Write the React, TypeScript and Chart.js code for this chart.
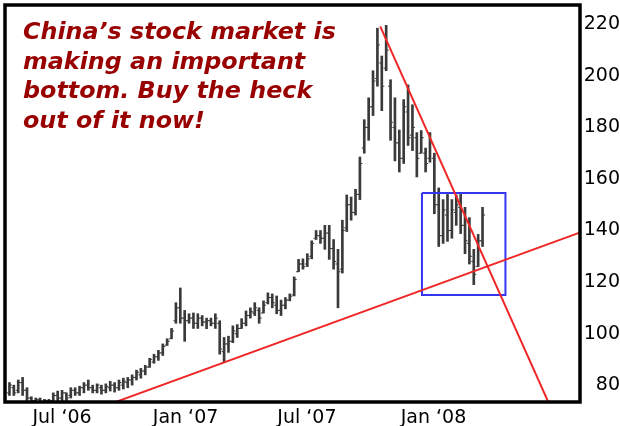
import React, { useEffect, useRef } from 'react';
import { Chart, registerables } from 'chart.js';

Chart.register(...registerables);

// Weekly OHLC bars (reading order, left to right)
const highs = [
  81, 80, 82, 83, 79, 75.5, 75, 75, 74.5, 74.5,
  77, 77.7, 78, 77, 79, 79, 79.6, 81, 82, 80,
  80.5, 80, 80.5, 81.5, 81, 82, 82.7, 83, 84,
  85.8, 86.5, 87.7, 90.4, 92, 93.5, 96, 98, 102, 112, 117.7,
  109, 107.7, 108, 107.7, 107, 106, 106, 107.7, 105, 98.5,
  99, 103, 103.5, 105.8, 108.8, 110, 112, 110, 112.7, 115.8,
  115.4, 114.6, 113, 114, 115.4, 122, 128.8, 129, 131, 136,
  140, 140, 142, 142, 136.5, 132.7, 144, 153.8, 153, 156,
  168.5, 183, 191.5, 202, 218.5, 207.7, 219.6, 198.5, 191.5, 179,
  190.8, 196.5, 188.8, 178, 178.8, 172, 178, 170, 156.5, 152,
  154, 152, 153.8, 154, 149, 145, 132.7, 138.5, 149,
];
const lows = [
  76, 76, 77, 76, 74, 73.5, 73, 73, 73, 73,
  73, 74, 73.8, 73.5, 75, 76, 76, 77, 78, 77,
  77, 76.5, 77, 77.7, 77.3, 78, 78.5, 79, 80,
  82, 82.7, 84, 86.9, 88.5, 89.6, 91.5, 95.4, 98, 104, 104,
  97, 104, 102, 102, 103, 101.9, 103, 102, 92, 89,
  92.7, 96.5, 98.5, 102, 103, 106, 107, 104, 108, 111.5,
  110, 107.7, 107, 109.6, 112.7, 114.6, 124, 125, 126, 129,
  136.5, 135, 132.7, 128.8, 125, 110, 123.5, 139.6, 144, 146,
  152, 170, 175, 184.6, 196, 186.5, 202, 175, 167, 162.7,
  166, 173, 171, 160.8, 170, 162.7, 166.5, 146.5, 133.8, 135,
  135.8, 137, 142, 138.8, 131, 127, 119, 126, 133.8,
];
const opens = [
  77, 79, 78, 81, 78, 75, 74, 74.5, 73.5, 74,
  74, 76, 75, 77, 76, 78, 77, 79, 80, 79,
  78, 79, 78, 79, 80, 79, 80, 81, 82,
  83, 84, 85.5, 87, 89, 91, 92.5, 95.5, 98, 105, 110,
  106, 105, 106, 104, 106, 104.5, 105, 104, 104, 93,
  96, 97, 100, 102, 104, 107, 108, 109, 108, 112,
  114, 111, 109, 111, 113, 115, 124, 127, 127, 130,
  137, 138, 137, 139, 133, 127, 125, 141, 150, 147,
  154, 172, 180, 188, 199, 205, 203, 196, 180, 174,
  168, 186, 177, 176, 170, 170, 168, 168, 150, 138,
  146, 140, 147, 149, 142, 135, 128, 126, 136,
];
const closes = [
  80, 77, 81, 78, 75, 74, 74.5, 73.5, 74, 74,
  76, 75, 77, 75, 78, 77, 79, 80, 79, 78,
  80, 78, 79.5, 80, 79, 81, 81.5, 82, 83,
  85, 85.5, 87, 90, 91, 92.5, 95, 97, 101, 110, 106,
  105, 106, 104, 106, 104.5, 105, 104, 106, 94, 96,
  97, 101, 102, 104, 107, 108.5, 110, 106, 111, 114,
  112, 109, 111, 113, 114.5, 121, 127, 126, 129, 135,
  138, 137, 139, 133, 128, 124, 140, 150, 147, 154,
  166, 180, 188, 198, 212, 196, 210, 182, 174, 168,
  188, 176, 180, 168, 176, 166, 174, 150, 138, 148,
  140, 148, 150, 142, 136, 130, 123, 136, 146,
];

const tickLabels = ['Jul ‘06', 'Jan ‘07', 'Jul ‘07', 'Jan ‘08'];
const tickWeeks = [12.0, 40.2, 67.9, 96.8];
const priceTicks = [80, 100, 120, 140, 160, 180, 200, 220];

// Trend lines and highlighted box, in (week, price)
const supportLine = [
  [24.3, 73.5],
  [131, 139.7],
];
const resistanceLine = [
  [84.64, 219.2],
  [124, 69.7],
];
const boxWeeks = [94.17, 113.23];
const boxPrices = [115, 154.6];

const noteLines = [
  'China’s stock market is',
  'making an important',
  'bottom. Buy the heck',
  'out of it now!',
];

const framePlugin = {
  id: 'frame',
  afterDraw(chart: any) {
    const { ctx, chartArea } = chart;
    ctx.save();
    ctx.strokeStyle = '#000';
    ctx.lineWidth = 3.5;
    ctx.strokeRect(
      chartArea.left,
      chartArea.top,
      chartArea.right - chartArea.left,
      chartArea.bottom - chartArea.top
    );
    ctx.restore();
  },
};

const whiteBg = {
  id: 'whiteBg',
  beforeDraw(chart: any) {
    const { ctx, width, height } = chart;
    ctx.save();
    ctx.fillStyle = '#fff';
    ctx.fillRect(0, 0, width, height);
    ctx.restore();
  },
};

export default function App() {
  const ref = useRef<HTMLCanvasElement | null>(null);

  useEffect(() => {
    if (!ref.current) return;
    const idx = highs.map((_, i) => i);
    const chart = new Chart(ref.current, {
      type: 'bar',
      data: {
        datasets: [
          {
            type: 'line',
            data: supportLine.map(([x, y]) => ({ x, y })),
            borderColor: '#f02626',
            borderWidth: 2,
            pointRadius: 0,
            order: 0,
          } as any,
          {
            type: 'line',
            data: resistanceLine.map(([x, y]) => ({ x, y })),
            borderColor: '#f02626',
            borderWidth: 2,
            pointRadius: 0,
            order: 0,
          } as any,
          {
            type: 'line',
            data: [
              { x: boxWeeks[0], y: boxPrices[1] },
              { x: boxWeeks[1], y: boxPrices[1] },
              { x: boxWeeks[1], y: boxPrices[0] },
              { x: boxWeeks[0], y: boxPrices[0] },
              { x: boxWeeks[0], y: boxPrices[1] },
            ],
            borderColor: '#3535f0',
            borderWidth: 2,
            pointRadius: 0,
            order: 1,
          } as any,
          {
            type: 'scatter',
            data: idx.map((i) => ({ x: i - 0.3, y: opens[i] })),
            pointStyle: 'line',
            radius: 1.2,
            borderWidth: 1,
            borderColor: '#3a3a3a',
            order: 2,
          } as any,
          {
            type: 'scatter',
            data: idx.map((i) => ({ x: i + 0.3, y: closes[i] })),
            pointStyle: 'line',
            radius: 1.2,
            borderWidth: 1,
            borderColor: '#3a3a3a',
            order: 2,
          } as any,
          {
            type: 'bar',
            data: idx.map((i) => ({ x: i, y: [lows[i], highs[i]] })),
            backgroundColor: '#3a3a3a',
            barThickness: 2,
            borderWidth: 0,
            order: 3,
          } as any,
        ],
      },
      options: {
        animation: false,
        responsive: false,
        events: [],
        layout: { padding: { left: 1.5, top: 1.5, right: 0, bottom: 0 } },
        plugins: { legend: { display: false }, tooltip: { enabled: false } },
        scales: {
          x: {
            type: 'linear',
            min: -1.02,
            max: 130.25,
            offset: false,
            grid: { display: false, drawTicks: false },
            border: { display: false },
            afterBuildTicks: (s: any) => {
              s.ticks = tickWeeks.map((v) => ({ value: v }));
            },
            afterFit: (s: any) => {
              s.height = 24;
              s.paddingLeft = 0;
              s.paddingRight = 0;
            },
            ticks: {
              autoSkip: false,
              maxRotation: 0,
              padding: 5,
              color: '#000',
              font: { family: 'DejaVu Sans', size: 19 },
              callback: (_v: any, i: number) => tickLabels[i],
            },
          },
          y: {
            type: 'linear',
            position: 'right',
            min: 73.46,
            max: 227.5,
            grid: { display: false, drawTicks: false },
            border: { display: false },
            afterBuildTicks: (s: any) => {
              s.ticks = priceTicks.map((v) => ({ value: v }));
            },
            afterFit: (s: any) => {
              s.width = 40;
              s.paddingTop = 0;
              s.paddingBottom = 0;
            },
            ticks: {
              crossAlign: 'far',
              padding: 4,
              color: '#000',
              font: { family: 'DejaVu Sans', size: 19 },
              callback: (v: any) => String(v),
            },
          },
        },
      } as any,
      plugins: [whiteBg, framePlugin],
    });
    return () => chart.destroy();
  }, []);

  return (
    <div
      style={{
        position: 'fixed',
        left: 0,
        top: 0,
        width: 620,
        height: 426,
        overflow: 'hidden',
        background: '#fff',
      }}
    >
      <canvas ref={ref} width={620} height={426} style={{ display: 'block' }} />
      <div
        style={{
          position: 'absolute',
          left: 23,
          top: 17,
          fontFamily: '"DejaVu Sans", Verdana, sans-serif',
          fontWeight: 'bold',
          fontStyle: 'italic',
          fontSize: 23.8,
          lineHeight: '29.5px',
          color: '#990000',
          whiteSpace: 'nowrap',
        }}
      >
        {noteLines.map((t, i) => (
          <div key={i}>{t}</div>
        ))}
      </div>
    </div>
  );
}
